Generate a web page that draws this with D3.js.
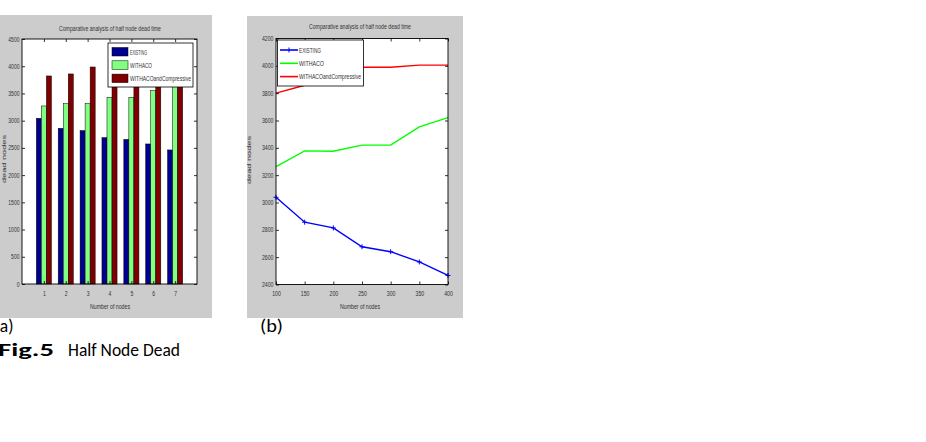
<!DOCTYPE html>
<html><head><meta charset="utf-8">
<script src="https://cdn.jsdelivr.net/npm/d3@7"></script>
<style>body{margin:0;background:#fff}svg{display:block}</style>
</head><body>
<svg id="c" width="926" height="442"></svg>
<script>
// ---- data ----
const barCategories = [1, 2, 3, 4, 5, 6, 7];
const barExisting = [3043, 2860, 2817, 2688, 2655, 2572, 2462];
const barWithACO = [3270, 3311, 3313, 3427, 3429, 3551, 3625];
const barWithACOComp = [3821, 3858, 3986, 3990, 3992, 4000, 4000];
const barYTicks = [0, 500, 1000, 1500, 2000, 2500, 3000, 3500, 4000, 4500];

const lineNodes = [100, 150, 200, 250, 300, 350, 400];
const lineExisting = [3038, 2856, 2814, 2676, 2640, 2565, 2466];
const lineWithACO = [3262, 3378, 3375, 3420, 3420, 3553, 3621];
const lineWithACOComp = [3800, 3858, 3960, 3990, 3990, 4005, 4005];
const lineYTicks = [2400, 2600, 2800, 3000, 3200, 3400, 3600, 3800, 4000, 4200];

const seriesNames = ["EXISTING", "WITHACO", "WITHACOandCompressive"];
const barColors = ["#00008f", "#80ff80", "#800000"];
const lineColors = ["#0000ff", "#00ff00", "#ff0000"];
const titleText = "Comparative analysis of half node dead time";

const svg = d3.select("#c");
svg.append("rect").attr("width", 926).attr("height", 442).attr("fill", "#fff");
const FONT = "'Liberation Sans',Arial,sans-serif";

function fit(sel, len) {
  return sel.attr("textLength", len).attr("lengthAdjust", "spacingAndGlyphs");
}

function frame(g, fx, fy, fw, fh) {
  g.append("rect").attr("x", fx).attr("y", fy).attr("width", fw).attr("height", fh).attr("fill", "#cccccc");
}

function axesBox(g, x, y) {
  const [x0, x1] = x.range(), [y0, y1] = y.range();
  g.append("rect").attr("x", x0).attr("y", y1).attr("width", x1 - x0).attr("height", y0 - y1)
    .attr("fill", "#fff");
}

function axesDecor(g, x, y, xticks, yticks, charW) {
  const [x0, x1] = x.range(), [y0, y1] = y.range();
  const bottom = d3.axisBottom(x).tickValues(xticks).tickSizeInner(-3).tickSizeOuter(0).tickPadding(7).tickFormat(d3.format("d"));
  const left = d3.axisLeft(y).tickValues(yticks).tickSizeInner(-3).tickSizeOuter(0).tickPadding(2.5).tickFormat(d3.format("d"));
  const top = d3.axisTop(x).tickValues(xticks).tickSizeInner(-3).tickSizeOuter(0).tickFormat("");
  const right = d3.axisRight(y).tickValues(yticks).tickSizeInner(-3).tickSizeOuter(0).tickFormat("");
  const gb = g.append("g").attr("transform", `translate(0,${y0})`).call(bottom);
  const gl = g.append("g").attr("transform", `translate(${x0},0)`).call(left);
  const gt = g.append("g").attr("transform", `translate(0,${y1})`).call(top);
  const gr = g.append("g").attr("transform", `translate(${x1},0)`).call(right);
  [gb, gl, gt, gr].forEach(a => {
    a.select(".domain").remove();
    a.selectAll("line").attr("stroke", "#000").attr("stroke-width", 0.8);
    a.selectAll("text").attr("font-family", FONT).attr("font-size", 6.5).attr("fill", "#333");
  });
  [gb, gl].forEach(a => a.selectAll("text").each(function () {
    const t = d3.select(this); const n = t.text().length;
    t.attr("textLength", n * charW).attr("lengthAdjust", "spacingAndGlyphs");
  }));
  g.append("rect").attr("x", x0).attr("y", y1).attr("width", x1 - x0).attr("height", y0 - y1)
    .attr("fill", "none").attr("stroke", "#000").attr("stroke-width", 0.9);
}

function labels(g, cx, titleY, xlabY, ylabX, ylabY) {
  fit(g.append("text").attr("x", cx).attr("y", titleY).attr("text-anchor", "middle")
    .attr("font-family", FONT).attr("font-size", 6.6).attr("fill", "#333").text(titleText), 102);
  fit(g.append("text").attr("x", cx).attr("y", xlabY).attr("text-anchor", "middle")
    .attr("font-family", FONT).attr("font-size", 7.5).attr("fill", "#333").text("Number of nodes"), 40);
  fit(g.append("text").attr("transform", `translate(${ylabX},${ylabY}) rotate(-90)`).attr("text-anchor", "middle")
    .attr("font-family", FONT).attr("font-size", 6).attr("fill", "#333").text("dead nodes"), 48);
}

// ---------------- chart (a) bar ----------------
{
  const g = svg.append("g");
  frame(g, 0, 15, 212, 303);
  const x = d3.scaleLinear().domain([0, 8]).range([22, 197]);
  const y = d3.scaleLinear().domain([0, 4500]).range([284, 39]);
  axesBox(g, x, y);
  const series = [barExisting, barWithACO, barWithACOComp];
  const bw = 0.23;
  series.forEach((vals, si) => {
    g.append("g").selectAll("rect").data(barCategories).join("rect")
      .attr("x", d => x(d + (si - 1) * bw - bw / 2))
      .attr("width", x(bw) - x(0))
      .attr("y", (d, i) => y(vals[i]))
      .attr("height", (d, i) => y(0) - y(vals[i]))
      .attr("fill", barColors[si]).attr("stroke", "#000").attr("stroke-width", 0.5);
  });
  axesDecor(g, x, y, barCategories, barYTicks, 2.8);
  const lg = g.append("g");
  lg.append("rect").attr("x", 108).attr("y", 43).attr("width", 85).attr("height", 44)
    .attr("fill", "#fff").attr("stroke", "#000").attr("stroke-width", 0.8);
  const lw = [17, 22, 61];
  seriesNames.forEach((n, i) => {
    lg.append("rect").attr("x", 112).attr("y", 47.5 + i * 13.3).attr("width", 16).attr("height", 8.5)
      .attr("fill", barColors[i]).attr("stroke", "#000").attr("stroke-width", 0.5);
    fit(lg.append("text").attr("x", 130).attr("y", 54.5 + i * 13.3).attr("font-family", FONT)
      .attr("font-size", 7).attr("fill", "#333").text(n), lw[i]);
  });
  labels(g, 110, 31, 309, 6, 159);
}

// ---------------- chart (b) line ----------------
{
  const g = svg.append("g");
  frame(g, 247, 16, 216, 302);
  const x = d3.scaleLinear().domain([100, 400]).range([276, 448]);
  const y = d3.scaleLinear().domain([2400, 4200]).range([284.5, 38.5]);
  axesBox(g, x, y);
  const series = [lineExisting, lineWithACO, lineWithACOComp];
  const line = d3.line().x((d, i) => x(lineNodes[i])).y(d => y(d));
  series.forEach((vals, si) => {
    g.append("path").datum(vals).attr("d", line).attr("fill", "none")
      .attr("stroke", lineColors[si]).attr("stroke-width", 1.4);
  });
  g.append("g").selectAll("path").data(lineExisting).join("path")
    .attr("d", (d, i) => { const cx = x(lineNodes[i]), cy = y(d); return `M${cx - 2.5},${cy}H${cx + 2.5}M${cx},${cy - 2.5}V${cy + 2.5}`; })
    .attr("stroke", lineColors[0]).attr("stroke-width", 1);
  axesDecor(g, x, y, lineNodes, lineYTicks, 2.9);
  const lg = g.append("g");
  lg.append("rect").attr("x", 277.5).attr("y", 40).attr("width", 86).attr("height", 46)
    .attr("fill", "#fff").attr("stroke", "#000").attr("stroke-width", 0.8);
  const lw = [22, 25, 62];
  seriesNames.forEach((n, i) => {
    const ly = 50 + i * 13.3;
    lg.append("line").attr("x1", 280).attr("x2", 298).attr("y1", ly).attr("y2", ly)
      .attr("stroke", lineColors[i]).attr("stroke-width", 1.6);
    if (i === 0) lg.append("path").attr("d", `M289,${ly - 2.5}V${ly + 2.5}`).attr("stroke", lineColors[0]).attr("stroke-width", 1);
    fit(lg.append("text").attr("x", 299).attr("y", ly + 2.5).attr("font-family", FONT)
      .attr("font-size", 7).attr("fill", "#333").text(n), lw[i]);
  });
  labels(g, 360, 29, 309, 251, 160);
}

// captions
const CAP = "Carlito, Calibri, Lato, 'Open Sans', sans-serif";
svg.append("text").attr("x", -5.5).attr("y", 332).attr("font-family", CAP).attr("font-size", 17.5).attr("fill", "#000").text("(a)");
fit(svg.append("text").attr("x", 260).attr("y", 332).attr("font-family", CAP).attr("font-size", 17.5).attr("fill", "#000").text("(b)"), 23);
fit(svg.append("text").attr("x", -2).attr("y", 355.5).attr("font-family", CAP).attr("font-size", 17.5).attr("font-weight", "bold").attr("fill", "#000").text("Fig.5"), 56);
svg.append("text").attr("x", 68).attr("y", 355.5).attr("font-family", CAP).attr("font-size", 17.5).attr("fill", "#000").text("Half Node Dead");
</script>
</body></html>
